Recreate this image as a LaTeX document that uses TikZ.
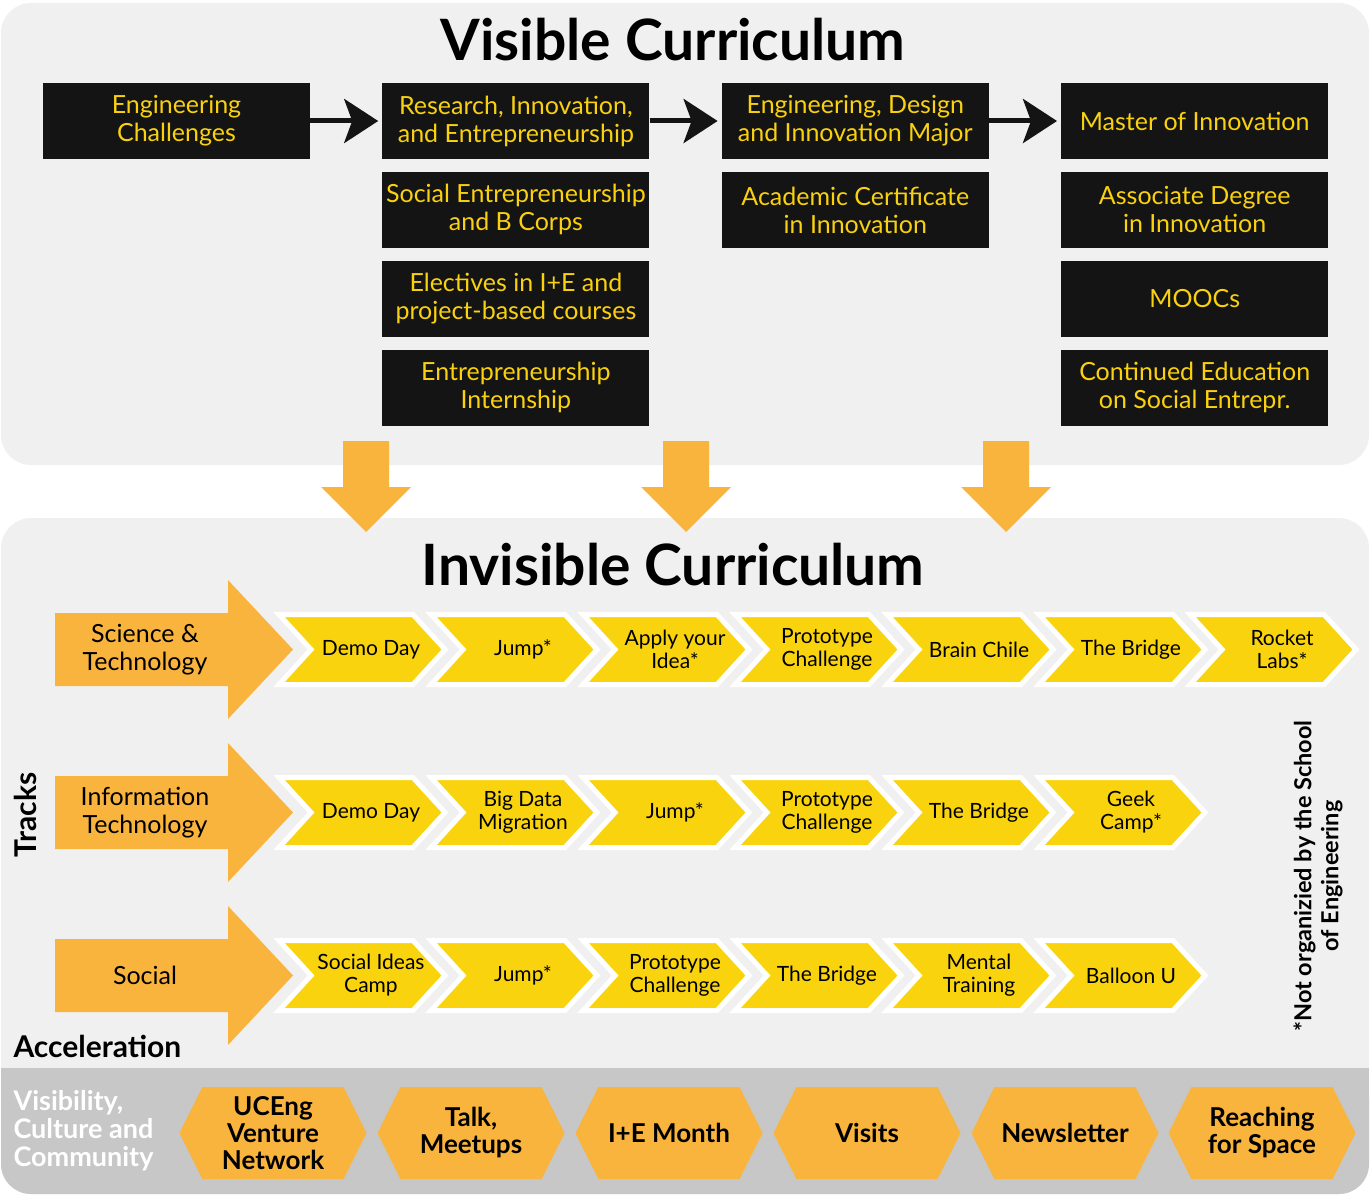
\documentclass[tikz,border=0pt]{standalone}
\usepackage{fontspec}
\setmainfont{Lato}
\usepackage{xcolor}
\usetikzlibrary{shapes.symbols, arrows.meta, positioning}

\definecolor{panelgray}{HTML}{F0F0F0}
\definecolor{bargray}{HTML}{C7C7C7}
\definecolor{boxblack}{HTML}{141414}
\definecolor{textyellow}{HTML}{F9D10F}
\definecolor{chevyellow}{HTML}{F9D40E}
\definecolor{trackorange}{HTML}{F9B43D}

\begin{document}
\begin{tikzpicture}[x=1pt, y=-1pt,
    vbox/.style={rectangle, fill=boxblack, text=textyellow, minimum width=267pt,
                 minimum height=76pt, align=center, inner sep=0pt,
                 font=\fontsize{25}{28}\selectfont},
    flow/.style={-{Stealth[length=34pt, width=44pt, inset=8pt]}, line width=5pt,
                 black!92, shorten >=4pt},
    chevtext/.style={align=center, xshift=9pt, font=\fontsize{21}{23}\selectfont},
    chev/.style={signal, signal from=west, signal to=east, signal pointer angle=95,
                 fill=chevyellow, draw=white, line width=5pt, minimum width=166pt,
                 minimum height=70pt, inner sep=0pt,
                 label={[chevtext]center:#1}},
    hexa/.style={signal, signal to=west and east, signal pointer angle=127,
                 fill=trackorange, minimum width=187pt, minimum height=92pt,
                 inner sep=0pt, align=center, font=\bfseries\fontsize{26}{27}\selectfont},
    tracklabel/.style={align=center, font=\fontsize{25}{28}\selectfont},
    bigtitle/.style={font=\bfseries\fontsize{57}{62}\selectfont},
    sidelabel/.style={font=\bfseries\fontsize{30}{32}\selectfont}
]
    \useasboundingbox (0,0) rectangle (1371,1196);
    \fill[panelgray, rounded corners=30pt] (1,3) rectangle (1369,465);
    \fill[panelgray, rounded corners=30pt] (1,518) rectangle (1369,1194);
    \fill[bargray, rounded corners=30pt] (1,1068) rectangle (1369,1194);
    \fill[bargray] (1,1068) rectangle (1369,1110);

    \node[bigtitle] (vistitle) at (673,40) {Visible Curriculum};
    \node[vbox] (ec) at (176.5,121) {Engineering\\Challenges};
    \node[vbox, right=72pt of ec] (rie) {Research, Innovation,\\and Entrepreneurship};
    \node[vbox, right=72pt of rie] (edi) {Engineering, Design\\and Innovation Major};
    \node[vbox, right=72pt of edi] (mi) {Master of Innovation};
    \node[vbox, below=12.5pt of rie] (sebc) {Social Entrepreneurship\\and B Corps};
    \node[vbox, below=12.5pt of sebc] (elec) {Electives in I+E and\\project-based courses};
    \node[vbox, below=12.5pt of elec] (intern) {Entrepreneurship\\Internship};
    \node[vbox, below=12.5pt of edi] (acad) {Academic Certificate\\in Innovation};
    \node[vbox, below=12.5pt of mi] (assoc) {Associate Degree\\in Innovation};
    \node[vbox, below=12.5pt of assoc] (mooc) {MOOCs};
    \node[vbox, below=12.5pt of mooc] (cont) {Continued Education\\on Social Entrepr.};
    \draw[flow] (ec) -- (rie);
    \draw[flow] (rie) -- (edi);
    \draw[flow] (edi) -- (mi);

    \foreach \x in {366,686,1006}
        \fill[trackorange] (\x-23,441) -- (\x+23,441) -- (\x+23,487) -- (\x+45,487)
            -- (\x,532) -- (\x-45,487) -- (\x-23,487) -- cycle;

    \node[bigtitle] (invtitle) at (673,565) {Invisible Curriculum};
    \foreach \y in {649.5,812.5,975.5}
        \fill[trackorange] (55,\y-36.5) -- (228,\y-36.5) -- (228,\y-69.5) -- (293,\y)
            -- (228,\y+69.5) -- (228,\y+36.5) -- (55,\y+36.5) -- cycle;
    \node[tracklabel] (scitech) at (145,649.5) {Science \&\\Technology};
    \node[tracklabel] (infotech) at (145,812.5) {Information\\Technology};
    \node[tracklabel] (social) at (145,975.5) {Social};

    \node[chev={Demo Day}] (st1) at (362,649.5) {};
    \node[chev={Jump*}] (st2) at (514,649.5) {};
    \node[chev={Apply your\\Idea*}] (st3) at (666,649.5) {};
    \node[chev={Prototype\\Challenge}] (st4) at (818,649.5) {};
    \node[chev={Brain Chile}] (st5) at (970,649.5) {};
    \node[chev={The Bridge}] (st6) at (1122,649.5) {};
    \node[chev={Rocket\\Labs*}] (st7) at (1273,649.5) {};

    \node[chev={Demo Day}] (it1) at (362,812.5) {};
    \node[chev={Big Data\\Migration}] (it2) at (514,812.5) {};
    \node[chev={Jump*}] (it3) at (666,812.5) {};
    \node[chev={Prototype\\Challenge}] (it4) at (818,812.5) {};
    \node[chev={The Bridge}] (it5) at (970,812.5) {};
    \node[chev={Geek\\Camp*}] (it6) at (1122,812.5) {};

    \node[chev={Social Ideas\\Camp}] (so1) at (362,975.5) {};
    \node[chev={Jump*}] (so2) at (514,975.5) {};
    \node[chev={Prototype\\Challenge}] (so3) at (666,975.5) {};
    \node[chev={The Bridge}] (so4) at (818,975.5) {};
    \node[chev={Mental\\Training}] (so5) at (970,975.5) {};
    \node[chev={Balloon U}] (so6) at (1122,975.5) {};

    \node[sidelabel, rotate=90] (tracks) at (25,815) {Tracks};
    \node[sidelabel, anchor=west] (accel) at (10,1046) {Acceleration};
    \node[rotate=90, align=center, font=\bfseries\fontsize{23.5}{27}\selectfont] (note)
        at (1318,876) {*Not organizied by the School\\of Engineering};

    \node[anchor=west, align=left, text=white, font=\bfseries\fontsize{27}{28}\selectfont]
        (vcc) at (10,1131) {Visibility,\\Culture and\\Community};
    \node[hexa] (ucv) at (273,1133) {UCEng\\Venture\\Network};
    \node[hexa] (talk) at (471,1133) {Talk,\\Meetups};
    \node[hexa] (iem) at (669,1133) {I+E Month};
    \node[hexa] (visits) at (867,1133) {Visits};
    \node[hexa] (news) at (1065,1133) {Newsletter};
    \node[hexa] (rfs) at (1262,1133) {Reaching\\for Space};
\end{tikzpicture}
\end{document}
